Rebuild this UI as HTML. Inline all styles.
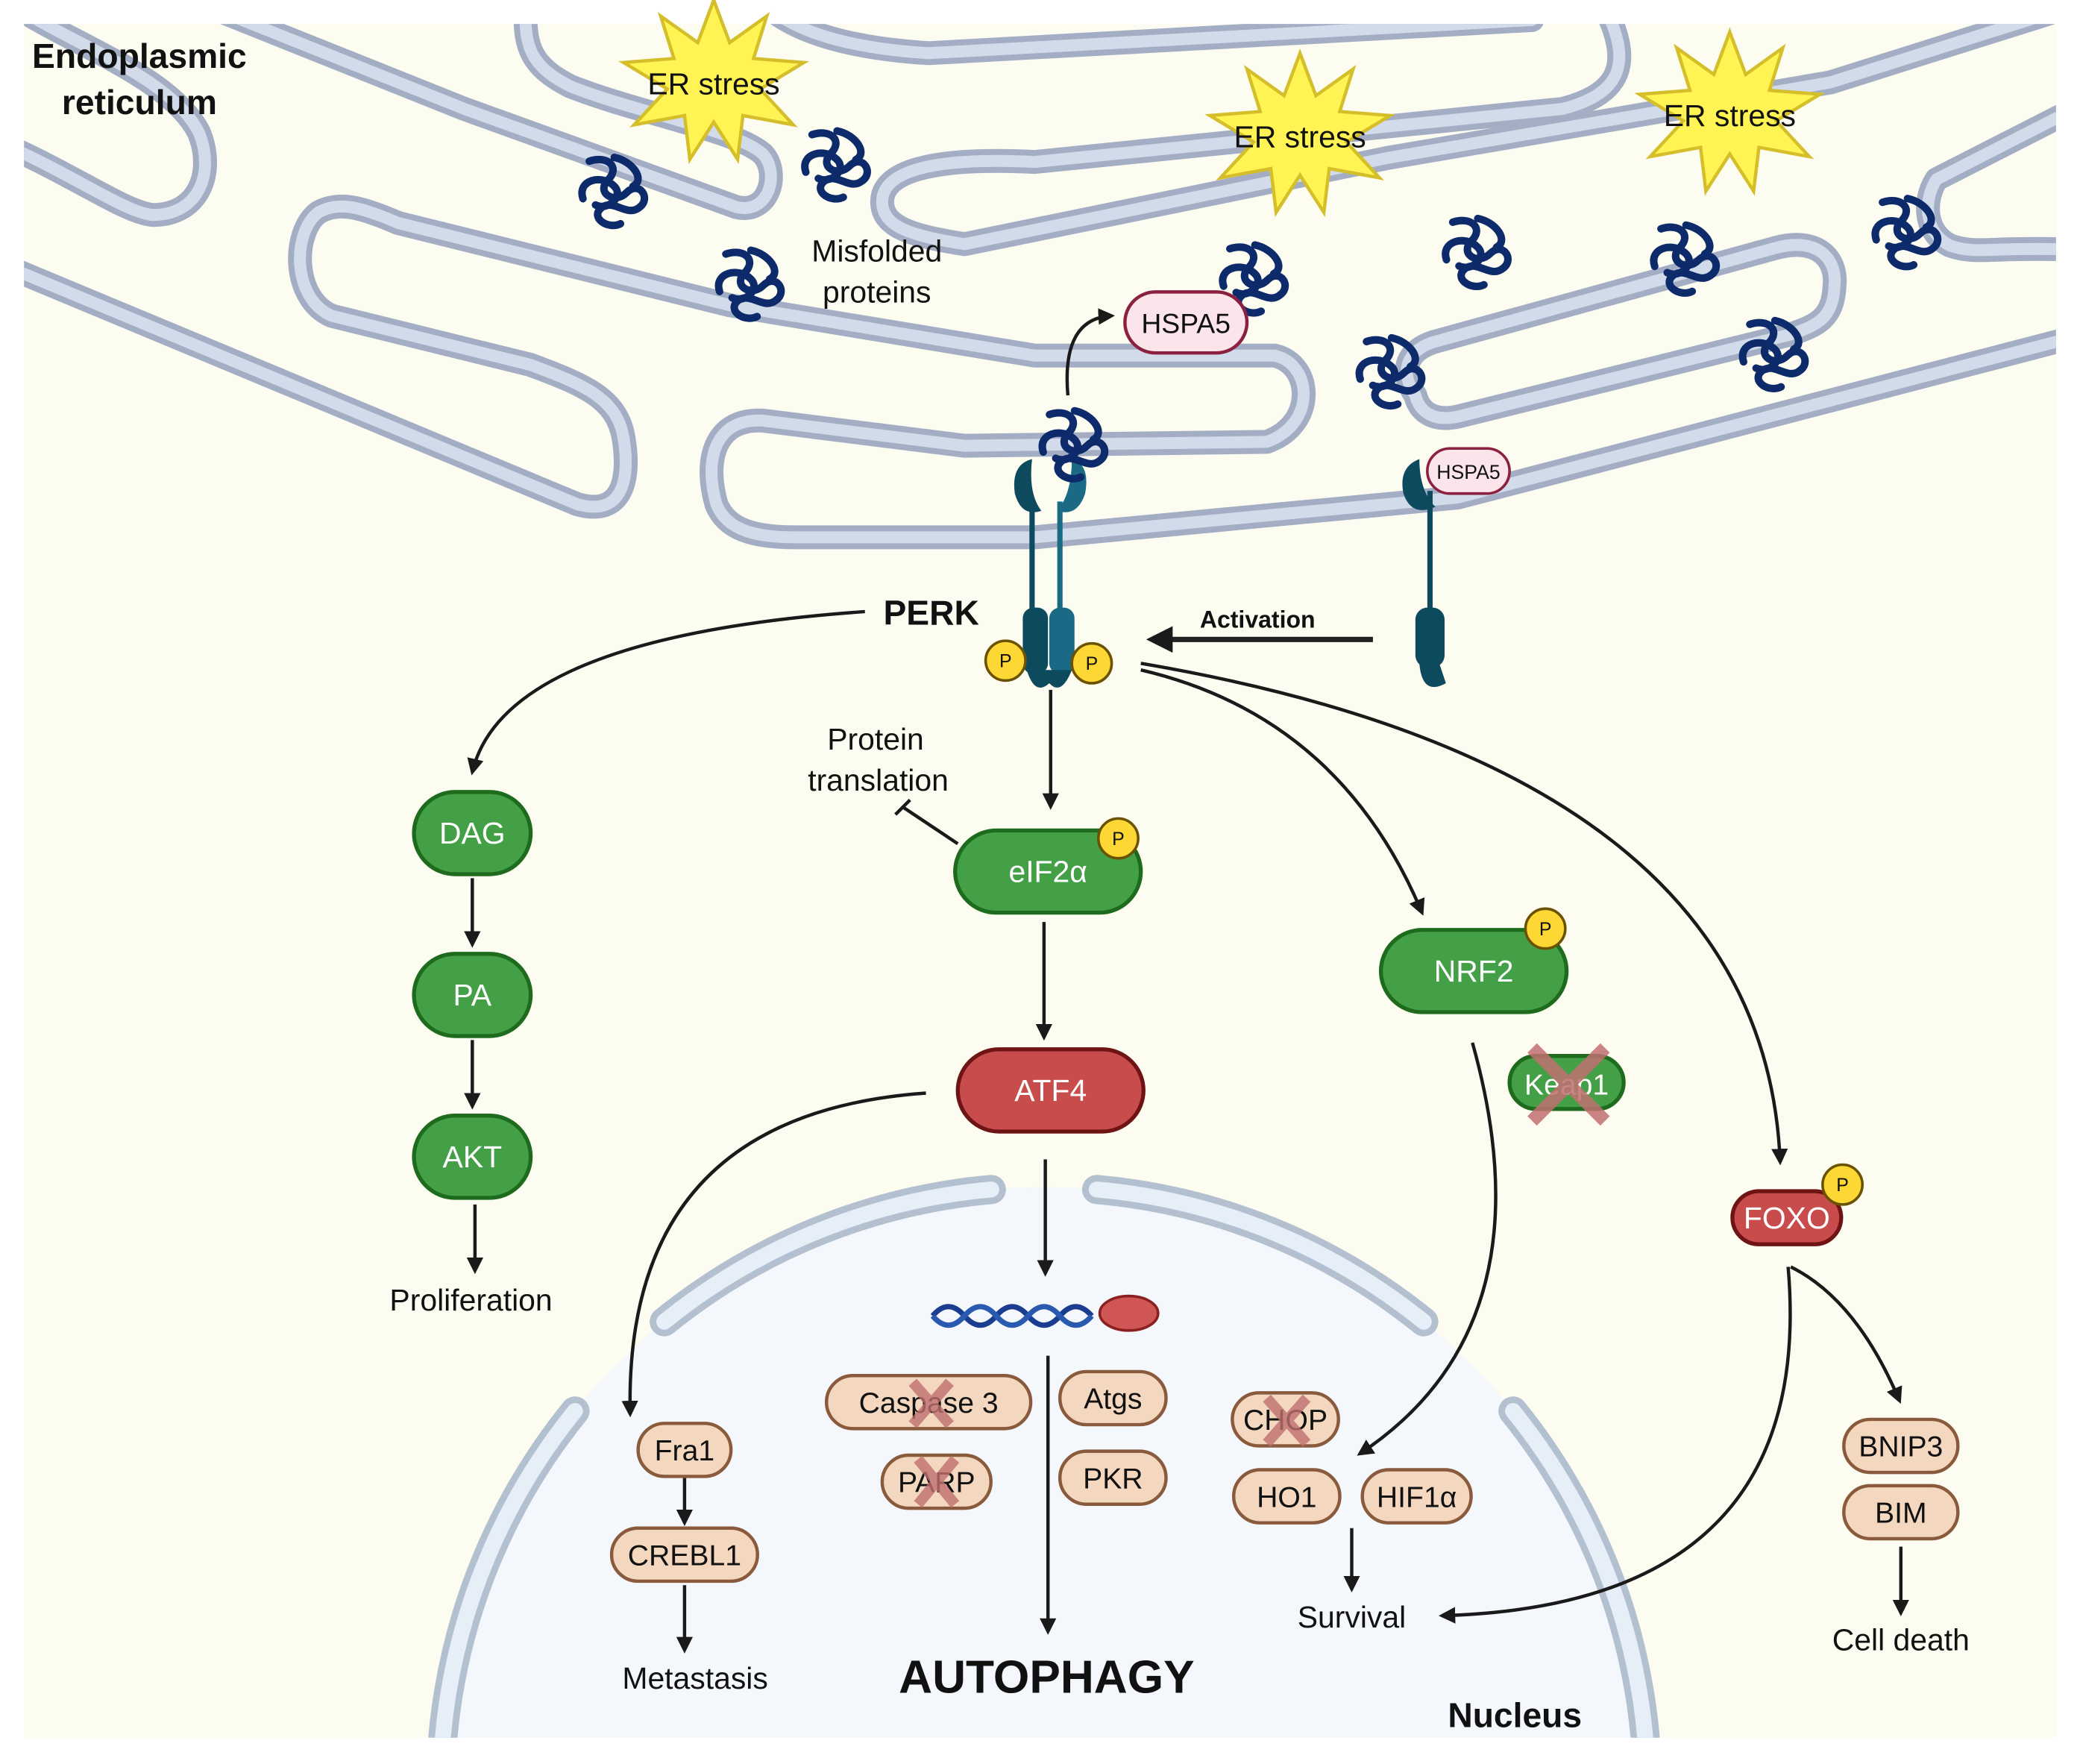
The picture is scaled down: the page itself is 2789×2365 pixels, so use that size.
<!DOCTYPE html>
<html><head><meta charset="utf-8"><style>
html,body{margin:0;padding:0;background:#fff;width:2789px;height:2365px;overflow:hidden}
svg{display:block}
text{font-family:"Liberation Sans",sans-serif}
</style></head><body>
<svg width="2789" height="2365" viewBox="0 0 1560 1323" preserveAspectRatio="none" xmlns="http://www.w3.org/2000/svg">
<defs>
<marker id="ar" viewBox="0 0 10 10" refX="8" refY="5" markerWidth="5" markerHeight="5" orient="auto"><path d="M0,0 L10,5 L0,10 z" fill="#1a1a1a"/></marker>
<symbol id="mp" viewBox="-35 -35 70 70"><path d="M-20,-25 C-5,-30 5,-20 -5,-10 C-15,0 0,10 10,0 C20,-10 30,5 20,12 C10,20 0,5 -10,12 C-20,20 -5,30 5,25 M-25,5 C-30,-10 -10,-15 0,-5 C8,3 -5,15 -15,10 M0,-28 C15,-25 25,-10 15,-5" fill="none" stroke="#0d2a6b" stroke-width="6" stroke-linecap="round"/></symbol>
<clipPath id="cl"><rect x="18" y="18" width="1532" height="1292"/></clipPath>
</defs>
<g transform="matrix(0.9948 0 0 0.9948 0.094 0.094)">
<rect x="18" y="18" width="1532" height="1292" fill="#fdfcf1"/>
<g clip-path="url(#cl)">
<!-- nucleus -->
<circle cx="787" cy="1350" r="455" fill="#f4f7fb"/>
<g fill="none" stroke-linecap="round">
<g stroke="#b3c0cf" stroke-width="22">
<path d="M359.4,1505.6 A455,455 0 0 1 433.4,1063.7"/>
<path d="M500.7,996.4 A455,455 0 0 1 747.3,896.7"/>
<path d="M826.7,896.7 A455,455 0 0 1 1073.3,996.4"/>
<path d="M1140.6,1063.7 A455,455 0 0 1 1214.6,1505.6"/>
</g>
<g stroke="#e6eef8" stroke-width="12">
<path d="M359.4,1505.6 A455,455 0 0 1 433.4,1063.7"/>
<path d="M500.7,996.4 A455,455 0 0 1 747.3,896.7"/>
<path d="M826.7,896.7 A455,455 0 0 1 1073.3,996.4"/>
<path d="M1140.6,1063.7 A455,455 0 0 1 1214.6,1505.6"/>
</g>
</g>
<!-- ER -->
<g fill="none" stroke-linecap="round" stroke-linejoin="round">
<g stroke="#a3aec4" stroke-width="18">
<path d="M10,112 C60,135 95,160 115,162 C150,162 162,130 150,100 C130,60 60,35 20,10"/>
<path d="M170,10 L350,82 L555,156 C580,162 588,130 575,116 C555,98 480,85 430,65 C400,50 396,35 396,10"/>
<path d="M585,10 Q620,35 700,40 L1155,15"/>
<path d="M1212,10 C1228,45 1225,70 1178,82 L780,122 C700,118 665,130 665,152 C665,172 690,178 727,184 L1046,119 L1380,62 L1545,10"/>
<path d="M10,203 L435,380 C470,390 475,360 470,330 C465,300 440,290 400,275 L250,238 C220,225 220,175 240,160 C255,152 270,155 300,168 L550,230 L780,268 L961,268 C990,275 992,320 955,333 L727,336 L575,317 C540,315 530,345 540,380 C548,400 570,405 600,405 L780,405 L1099,375 L1560,255"/>
<path d="M1067,298 C1055,280 1060,265 1080,258 L1338,187 C1370,178 1385,195 1383,215 C1382,240 1370,245 1350,252 L1099,314 C1080,318 1070,310 1067,298 Z"/>
<path d="M1560,84 L1460,135 C1450,150 1450,175 1470,185 C1490,192 1500,186 1560,188"/>
</g>
<g stroke="#d2dbea" stroke-width="9">
<path d="M10,112 C60,135 95,160 115,162 C150,162 162,130 150,100 C130,60 60,35 20,10"/>
<path d="M170,10 L350,82 L555,156 C580,162 588,130 575,116 C555,98 480,85 430,65 C400,50 396,35 396,10"/>
<path d="M585,10 Q620,35 700,40 L1155,15"/>
<path d="M1212,10 C1228,45 1225,70 1178,82 L780,122 C700,118 665,130 665,152 C665,172 690,178 727,184 L1046,119 L1380,62 L1545,10"/>
<path d="M10,203 L435,380 C470,390 475,360 470,330 C465,300 440,290 400,275 L250,238 C220,225 220,175 240,160 C255,152 270,155 300,168 L550,230 L780,268 L961,268 C990,275 992,320 955,333 L727,336 L575,317 C540,315 530,345 540,380 C548,400 570,405 600,405 L780,405 L1099,375 L1560,255"/>
<path d="M1067,298 C1055,280 1060,265 1080,258 L1338,187 C1370,178 1385,195 1383,215 C1382,240 1370,245 1350,252 L1099,314 C1080,318 1070,310 1067,298 Z"/>
<path d="M1560,84 L1460,135 C1450,150 1450,175 1470,185 C1490,192 1500,186 1560,188"/>
</g>
</g>
</g>
<!-- stars -->
<g fill="#fff453" stroke="#d4be2a" stroke-width="2.5">
<polygon points="0,-62 12,-30 40,-50 30,-18 68,-15 35,5 60,32 22,25 18,58 0,30 -18,58 -22,25 -60,32 -35,5 -68,-15 -30,-18 -40,-50 -12,-30" transform="translate(538,62)"/>
<polygon points="0,-62 12,-30 40,-50 30,-18 68,-15 35,5 60,32 22,25 18,58 0,30 -18,58 -22,25 -60,32 -35,5 -68,-15 -30,-18 -40,-50 -12,-30" transform="translate(980,102)"/>
<polygon points="0,-62 12,-30 40,-50 30,-18 68,-15 35,5 60,32 22,25 18,58 0,30 -18,58 -22,25 -60,32 -35,5 -68,-15 -30,-18 -40,-50 -12,-30" transform="translate(1304,86)"/>
</g>
<g font-size="23" fill="#111" text-anchor="middle">
<text x="538" y="71">ER stress</text><text x="980" y="111">ER stress</text><text x="1304" y="95">ER stress</text>
</g>
<text x="105" y="51" font-size="26" font-weight="bold" text-anchor="middle" fill="#111">Endoplasmic</text>
<text x="105" y="86" font-size="26" font-weight="bold" text-anchor="middle" fill="#111">reticulum</text>
<!-- misfolded proteins -->
<use href="#mp" x="430" y="112" width="66" height="66"/>
<use href="#mp" x="598" y="92" width="66" height="66"/>
<use href="#mp" x="533" y="182" width="66" height="66"/>
<use href="#mp" x="913" y="178" width="66" height="66"/>
<use href="#mp" x="1081" y="158" width="66" height="66"/>
<use href="#mp" x="1238" y="163" width="66" height="66"/>
<use href="#mp" x="1405" y="143" width="66" height="66"/>
<use href="#mp" x="1016" y="248" width="66" height="66"/>
<use href="#mp" x="1305" y="235" width="66" height="66"/>
<text x="661" y="197" font-size="23" text-anchor="middle" fill="#111">Misfolded</text>
<text x="661" y="228" font-size="23" text-anchor="middle" fill="#111">proteins</text>
<!-- HSPA5 -->
<path d="M805,298 Q800,240 838,238" fill="none" stroke="#1a1a1a" stroke-width="2.5" marker-end="url(#ar)"/>
<rect x="848" y="220" width="92" height="46" rx="23" fill="#fbe4ea" stroke="#8b2040" stroke-width="2.5"/>
<text x="894" y="251" font-size="21" text-anchor="middle" fill="#111">HSPA5</text>
<!-- PERK -->
<g fill="#0d4a5e">
<rect x="776" y="378" width="4" height="85"/><rect x="797" y="378" width="4" height="85" fill="#1a6a85"/>
<path d="M778,346 Q762,350 765,372 Q770,390 785,385 Q775,372 778,346z"/>
<path d="M808,346 Q822,350 818,372 Q812,390 797,385 Q808,372 808,346z" fill="#1a6a85"/>
<rect x="771" y="458" width="19" height="50" rx="8"/><rect x="791" y="458" width="19" height="50" rx="8" fill="#1a6a85"/>
<path d="M774,505 Q780,525 791,515 Q800,525 808,505z"/>
<rect x="1076" y="370" width="4" height="90"/>
<path d="M1070,346 Q1054,352 1058,372 Q1064,390 1082,382 Q1070,370 1070,346z"/>
<rect x="1067" y="458" width="22" height="45" rx="9"/>
<path d="M1070,500 Q1072,525 1090,515 L1085,500z"/>
</g>
<use href="#mp" x="777" y="303" width="66" height="66"/>
<rect x="1076" y="338" width="62" height="34" rx="17" fill="#fbe4ea" stroke="#8b2040" stroke-width="2"/>
<text x="1107" y="361" font-size="15" text-anchor="middle" fill="#111">HSPA5</text>
<g font-size="14" text-anchor="middle" fill="#111">
<circle cx="758" cy="498" r="15" fill="#fdd835" stroke="#6b5200" stroke-width="2"/><text x="758" y="503">P</text>
<circle cx="823" cy="500" r="15" fill="#fdd835" stroke="#6b5200" stroke-width="2"/><text x="823" y="505">P</text>
</g>
<text x="702" y="471" font-size="26" font-weight="bold" text-anchor="middle" fill="#111">PERK</text>
<text x="948" y="473" font-size="18" font-weight="bold" text-anchor="middle" fill="#111">Activation</text>
<line x1="1035" y1="482" x2="868" y2="482" stroke="#222" stroke-width="4" marker-end="url(#ar)"/>
<!-- arrows -->
<g fill="none" stroke="#1a1a1a" stroke-width="2.5">
<path d="M652,461 Q380,480 356,582" marker-end="url(#ar)"/>
<path d="M792,520 L792,608" marker-end="url(#ar)"/>
<path d="M722,636 L680,608"/><path d="M675,614 L686,603"/>
<path d="M860,505 Q1010,540 1072,688" marker-end="url(#ar)"/>
<path d="M860,500 Q1330,580 1342,876" marker-end="url(#ar)"/>
<path d="M356,662 L356,712" marker-end="url(#ar)"/>
<path d="M356,784 L356,834" marker-end="url(#ar)"/>
<path d="M358,908 L358,958" marker-end="url(#ar)"/>
<path d="M787,695 L787,782" marker-end="url(#ar)"/>
<path d="M698,824 Q470,840 475,1066" marker-end="url(#ar)"/>
<path d="M788,874 L788,960" marker-end="url(#ar)"/>
<path d="M790,1022 L790,1230" marker-end="url(#ar)"/>
<path d="M516,1114 L516,1148" marker-end="url(#ar)"/>
<path d="M516,1195 L516,1244" marker-end="url(#ar)"/>
<path d="M1110,786 Q1170,1000 1025,1096" marker-end="url(#ar)"/>
<path d="M1019,1152 L1019,1198" marker-end="url(#ar)"/>
<path d="M1348,955 Q1370,1210 1087,1218" marker-end="url(#ar)"/>
<path d="M1350,955 Q1400,980 1432,1056" marker-end="url(#ar)"/>
<path d="M1433,1166 L1433,1216" marker-end="url(#ar)"/>
</g>
<text x="660" y="565" font-size="23" text-anchor="middle" fill="#111">Protein</text>
<text x="662" y="596" font-size="23" text-anchor="middle" fill="#111">translation</text>
<!-- green nodes -->
<g stroke="#1e6b1e" stroke-width="3" fill="#43a047">
<rect x="312" y="597" width="88" height="62" rx="31"/>
<rect x="312" y="719" width="88" height="62" rx="31"/>
<rect x="312" y="841" width="88" height="62" rx="31"/>
<rect x="720" y="626" width="140" height="62" rx="31"/>
<rect x="1041" y="701" width="140" height="62" rx="31"/>
<rect x="1138" y="796" width="86" height="40" rx="20"/>
</g>
<g stroke="#6e1414" stroke-width="3" fill="#c94c4c">
<rect x="722" y="791" width="140" height="62" rx="31"/>
<rect x="1306" y="898" width="82" height="40" rx="20"/>
</g>
<g fill="#fff" font-size="23" text-anchor="middle">
<text x="356" y="636">DAG</text><text x="356" y="758">PA</text><text x="356" y="880">AKT</text>
<text x="790" y="665">eIF2α</text><text x="792" y="830">ATF4</text><text x="1111" y="740">NRF2</text>
<text x="1347" y="926">FOXO</text>
</g>
<text x="1181" y="825" font-size="22" text-anchor="middle" fill="#fff">Keap1</text>
<g stroke="#c07070" stroke-width="10" opacity="0.85"><line x1="1155" y1="790" x2="1210" y2="845"/><line x1="1210" y1="790" x2="1155" y2="845"/></g>
<g font-size="14" text-anchor="middle" fill="#111">
<circle cx="843" cy="632" r="15" fill="#fdd835" stroke="#6b5200" stroke-width="2"/><text x="843" y="637">P</text>
<circle cx="1165" cy="700" r="15" fill="#fdd835" stroke="#6b5200" stroke-width="2"/><text x="1165" y="705">P</text>
<circle cx="1389" cy="893" r="15" fill="#fdd835" stroke="#6b5200" stroke-width="2"/><text x="1389" y="898">P</text>
</g>
<!-- DNA -->
<g fill="none" stroke-width="4">
<path d="M703,992 q12,-14 24,0 t24,0 t24,0 t24,0 t24,0" stroke="#1a3d8f"/>
<path d="M703,992 q12,14 24,0 t24,0 t24,0 t24,0 t24,0" stroke="#2a5ab0"/>
</g>
<ellipse cx="851" cy="990" rx="22" ry="13" fill="#d05555" stroke="#8a2020" stroke-width="2"/>
<!-- tan nodes -->
<g fill="#f4d7bf" stroke="#8a5a3c" stroke-width="2.5">
<rect x="623" y="1037" width="154" height="40" rx="20"/>
<rect x="799" y="1034" width="80" height="40" rx="20"/>
<rect x="665" y="1097" width="82" height="40" rx="20"/>
<rect x="799" y="1094" width="80" height="40" rx="20"/>
<rect x="481" y="1073" width="70" height="40" rx="20"/>
<rect x="461" y="1152" width="110" height="40" rx="20"/>
<rect x="929" y="1050" width="80" height="40" rx="20"/>
<rect x="930" y="1108" width="80" height="40" rx="20"/>
<rect x="1027" y="1108" width="82" height="40" rx="20"/>
<rect x="1390" y="1070" width="86" height="40" rx="20"/>
<rect x="1390" y="1120" width="86" height="40" rx="20"/>
</g>
<g font-size="22" text-anchor="middle" fill="#111">
<text x="700" y="1065">Caspase 3</text><text x="839" y="1062">Atgs</text><text x="706" y="1125">PARP</text>
<text x="839" y="1122">PKR</text><text x="516" y="1101">Fra1</text><text x="516" y="1180">CREBL1</text>
<text x="969" y="1078">CHOP</text><text x="970" y="1136">HO1</text><text x="1068" y="1136">HIF1α</text>
<text x="1433" y="1098">BNIP3</text><text x="1433" y="1148">BIM</text>
</g>
<g stroke="#c07070" stroke-width="8" opacity="0.8">
<line x1="688" y1="1042" x2="716" y2="1074"/><line x1="716" y1="1042" x2="688" y2="1074"/>
<line x1="692" y1="1100" x2="720" y2="1134"/><line x1="720" y1="1100" x2="692" y2="1134"/>
<line x1="955" y1="1054" x2="985" y2="1088"/><line x1="985" y1="1054" x2="955" y2="1088"/>
</g>
<g font-size="23" text-anchor="middle" fill="#111">
<text x="355" y="988">Proliferation</text><text x="524" y="1273">Metastasis</text>
<text x="1019" y="1227">Survival</text><text x="1433" y="1244">Cell death</text>
</g>
<text x="789" y="1276" font-size="35" font-weight="bold" text-anchor="middle" fill="#111">AUTOPHAGY</text>
<text x="1142" y="1302" font-size="26" font-weight="bold" text-anchor="middle" fill="#111">Nucleus</text>
</g>
</svg>
</body></html>
